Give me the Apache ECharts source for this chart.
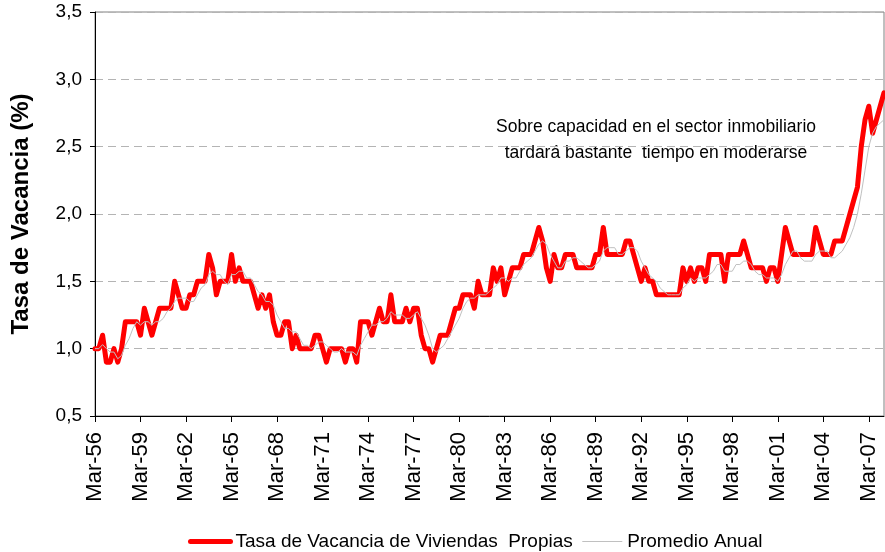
<!DOCTYPE html>
<html>
<head>
<meta charset="utf-8">
<script src="https://cdn.jsdelivr.net/npm/echarts@6/dist/echarts.min.js"></script>
<style>
  html, body { margin: 0; padding: 0; background: #fff; }
  #chart { width: 885px; height: 552px; }
</style>
</head>
<body>
<div id="chart"></div>
<script>
// Tasa de vacancia trimestral, Mar-56 .. Mar-08
const firstYear = 1956;
const lastYear = 2008;
const quarterNames = ['Mar', 'Jun', 'Sep', 'Dic'];

const vacancyRate = [
    1.0, 1.0, 1.1, 0.9,  0.9, 1.0, 0.9, 1.0,  1.2, 1.2, 1.2, 1.2,  1.1, 1.3, 1.2, 1.1,
    1.2, 1.3, 1.3, 1.3,  1.3, 1.5, 1.4, 1.3,  1.3, 1.4, 1.4, 1.5,  1.5, 1.5, 1.7, 1.6,
    1.4, 1.5, 1.5, 1.5,  1.7, 1.5, 1.6, 1.5,  1.5, 1.5, 1.4, 1.3,  1.4, 1.3, 1.4, 1.2,
    1.1, 1.1, 1.2, 1.2,  1.0, 1.1, 1.0, 1.0,  1.0, 1.0, 1.1, 1.1,  1.0, 0.9, 1.0, 1.0,
    1.0, 1.0, 0.9, 1.0,  1.0, 0.9, 1.2, 1.2,  1.2, 1.1, 1.2, 1.3,  1.2, 1.2, 1.4, 1.2,
    1.2, 1.2, 1.3, 1.2,  1.3, 1.3, 1.1, 1.0,  1.0, 0.9, 1.0, 1.1,  1.1, 1.1, 1.2, 1.3,
    1.3, 1.4, 1.4, 1.4,  1.3, 1.5, 1.4, 1.4,  1.4, 1.6, 1.5, 1.6,  1.4, 1.5, 1.6, 1.6,
    1.6, 1.7, 1.7, 1.7,  1.8, 1.9, 1.8, 1.6,  1.5, 1.7, 1.6, 1.6,  1.7, 1.7, 1.7, 1.6,
    1.6, 1.6, 1.6, 1.6,  1.7, 1.7, 1.9, 1.7,  1.7, 1.7, 1.7, 1.7,  1.8, 1.8, 1.7, 1.6,
    1.5, 1.6, 1.5, 1.5,  1.4, 1.4, 1.4, 1.4,  1.4, 1.4, 1.4, 1.6,  1.5, 1.6, 1.5, 1.6,
    1.6, 1.5, 1.7, 1.7,  1.7, 1.7, 1.5, 1.7,  1.7, 1.7, 1.7, 1.8,  1.7, 1.6, 1.6, 1.6,
    1.6, 1.5, 1.6, 1.6,  1.5, 1.7, 1.9, 1.8,  1.7, 1.7, 1.7, 1.7,  1.7, 1.7, 1.9, 1.8,
    1.7, 1.7, 1.7, 1.8,  1.8, 1.8, 1.9, 2.0,  2.1, 2.2, 2.5, 2.7,  2.8, 2.6, 2.7, 2.8,
    2.9
];

const annualAverage = [
    1.0, 1.0, 1.03, 1.0,  0.975, 0.975, 0.925, 0.95,  1.025, 1.075, 1.15, 1.2,  1.175, 1.2, 1.2, 1.175,
    1.2, 1.2, 1.225, 1.275,  1.3, 1.35, 1.375, 1.375,  1.375, 1.35, 1.35, 1.4,  1.45, 1.475, 1.55, 1.575,
    1.55, 1.55, 1.5, 1.475,  1.55, 1.55, 1.575, 1.575,  1.525, 1.525, 1.475, 1.425,  1.4, 1.35, 1.35, 1.325,
    1.25, 1.2, 1.15, 1.15,  1.125, 1.125, 1.075, 1.025,  1.025, 1.0, 1.025, 1.05,  1.05, 1.025, 1.0, 0.975,
    0.975, 1.0, 0.975, 0.975,  0.975, 0.95, 1.025, 1.075,  1.125, 1.175, 1.175, 1.2,  1.2, 1.225, 1.275, 1.25,
    1.25, 1.25, 1.225, 1.225,  1.25, 1.275, 1.225, 1.175,  1.1, 1.0, 0.975, 1.0,  1.025, 1.075, 1.125, 1.175,
    1.225, 1.3, 1.35, 1.375,  1.375, 1.4, 1.4, 1.4,  1.425, 1.45, 1.475, 1.525,  1.525, 1.5, 1.525, 1.525,
    1.575, 1.625, 1.65, 1.675,  1.725, 1.775, 1.8, 1.775,  1.7, 1.65, 1.6, 1.6,  1.65, 1.65, 1.675, 1.675,
    1.65, 1.625, 1.6, 1.6,  1.625, 1.65, 1.725, 1.75,  1.75, 1.75, 1.7, 1.7,  1.725, 1.75, 1.75, 1.725,
    1.65, 1.6, 1.55, 1.525,  1.5, 1.45, 1.425, 1.4,  1.4, 1.4, 1.4, 1.45,  1.475, 1.525, 1.5, 1.525,
    1.525, 1.525, 1.55, 1.575,  1.625, 1.625, 1.575, 1.575,  1.575, 1.625, 1.625, 1.65,  1.65, 1.625, 1.575, 1.55,
    1.55, 1.525, 1.525, 1.525,  1.5, 1.55, 1.625, 1.675,  1.725, 1.725, 1.675, 1.65,  1.65, 1.65, 1.7, 1.725,
    1.725, 1.725, 1.675, 1.675,  1.7, 1.725, 1.775, 1.825,  1.9, 2.0, 2.15, 2.325,  2.5, 2.6, 2.65, 2.675,
    2.7
];

const seriesNames = ['Tasa de Vacancia de Viviendas  Propias', 'Promedio Anual'];
const noteLines = ['Sobre capacidad en el sector inmobiliario', 'tardará bastante  tiempo en moderarse'];

const quarters = [];
for (let y = firstYear; y <= lastYear; y++) {
    for (const q of quarterNames) {
        quarters.push(q + '-' + String(y).slice(2));
    }
}
quarters.length = vacancyRate.length;

const font = "'Liberation Sans', Arial, sans-serif";
const chart = echarts.init(document.getElementById('chart'), null, { renderer: 'canvas' });

chart.setOption({
    animation: false,
    backgroundColor: '#ffffff',
    textStyle: { fontFamily: font, color: '#000' },
    grid: {
        left: 95, right: 1, top: 12, bottom: 136,
        containLabel: false,
        outerBoundsMode: 'none',
        show: true, borderColor: '#808080', borderWidth: 1
    },
    legend: {
        left: 183, top: 527,
        itemWidth: 40, itemHeight: 16, itemGap: 9,
        itemStyle: { opacity: 0 },
        lineStyle: { width: 'inherit' },
        textStyle: { fontSize: 19, fontFamily: font, color: '#000' },
        data: seriesNames
    },
    xAxis: {
        type: 'category',
        data: quarters,
        boundaryGap: false,
        axisLine: { lineStyle: { color: '#000', width: 1 } },
        axisTick: { interval: 11, length: 6, lineStyle: { color: '#000' } },
        axisLabel: {
            interval: 11, rotate: 90, margin: 16,
            fontSize: 22, fontFamily: font, color: '#000'
        },
        splitLine: { show: false }
    },
    yAxis: {
        type: 'value',
        min: 0.5, max: 3.5, interval: 0.5,
        name: 'Tasa de Vacancia (%)',
        nameLocation: 'middle',
        nameRotate: 90,
        nameGap: 62,
        nameTextStyle: { fontSize: 24, fontWeight: 'bold', fontFamily: font, color: '#000' },
        axisLine: { show: true, lineStyle: { color: '#000', width: 1 } },
        axisTick: { show: true, length: 5, lineStyle: { color: '#000' } },
        axisLabel: {
            margin: 13, fontSize: 19, fontFamily: font, color: '#000',
            formatter: v => v.toFixed(1).replace('.', ',')
        },
        splitLine: { lineStyle: { color: '#b4b4b4', type: [8, 5], width: 1 } }
    },
    graphic: [{
        type: 'text',
        x: 656, y: 114,
        style: {
            text: noteLines.join('\n'),
            font: '17.5px ' + font,
            fill: '#000',
            align: 'center',
            lineHeight: 26
        }
    }],
    series: [
        {
            name: seriesNames[0],
            type: 'line',
            data: vacancyRate,
            symbol: 'none',
            lineStyle: { color: '#ff0000', width: 5, join: 'round', cap: 'round' },
            itemStyle: { color: '#ff0000' },
            z: 2
        },
        {
            name: seriesNames[1],
            type: 'line',
            data: annualAverage,
            symbol: 'none',
            lineStyle: { color: '#c0c0c0', width: 1 },
            itemStyle: { color: '#c0c0c0' },
            z: 3
        }
    ]
});
</script>
</body>
</html>
